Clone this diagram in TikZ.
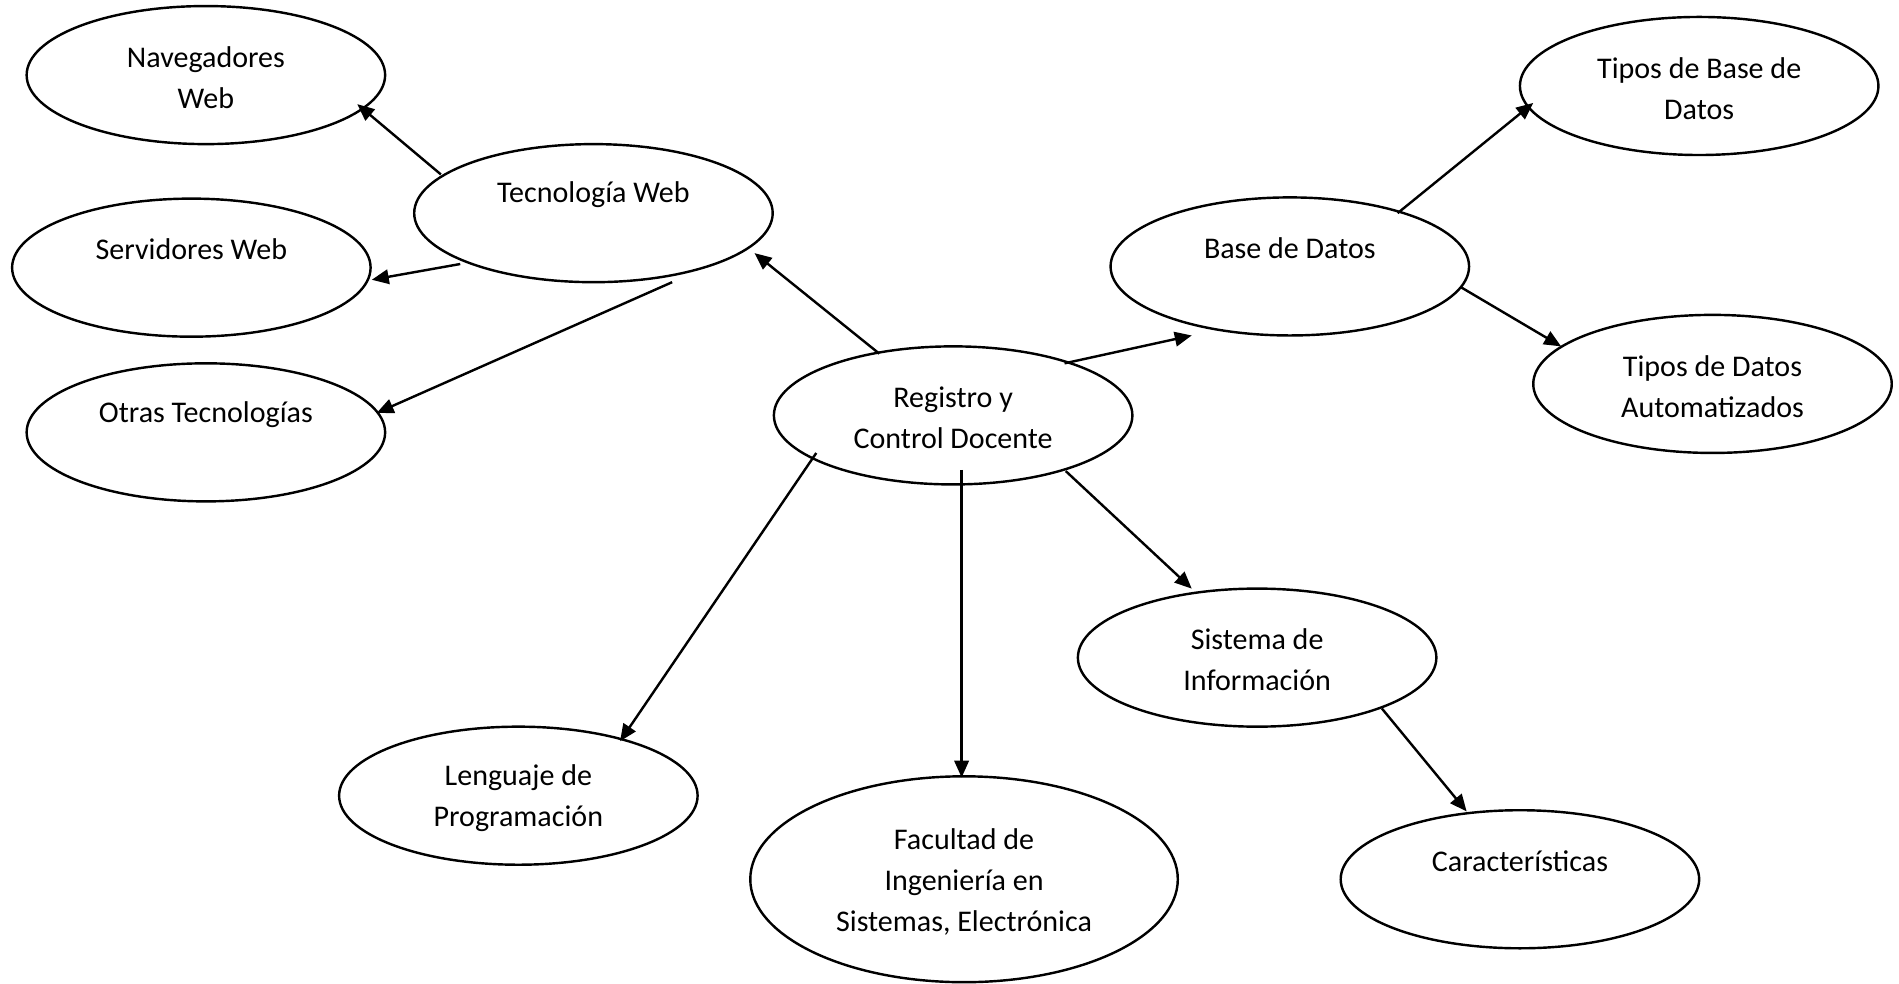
\documentclass[tikz,border=0pt]{standalone}
\usepackage{fontspec}
\setmainfont{Carlito}
\usetikzlibrary{shapes.geometric,arrows.meta,calc}
\begin{document}
\begin{tikzpicture}[x=0.5pt,y=-0.5pt,
  bubble/.style={ellipse,draw,line width=1pt,minimum width=148pt,minimum height=57pt,inner sep=0pt},
  bigbubble/.style={bubble,minimum width=176.5pt,minimum height=85pt},
  txt/.style={inner sep=0pt,align=center,font=\fontsize{12.4pt}{17pt}\selectfont},
  arr/.style={line width=1pt,-{Triangle[length=7pt,width=6pt]}}]
\useasboundingbox (0,0) rectangle (1568,812);

% ellipses
\node[bubble] (nav) at (170,62) {};
\node[bubble] (tw)  at (490,176) {};
\node[bubble] (srv) at (158,221) {};
\node[bubble] (otr) at (170,357) {};
\node[bubble] (reg) at (787,343) {};
\node[bubble] (bd)  at (1065,220) {};
\node[bubble] (tbd) at (1403,71) {};
\node[bubble] (tda) at (1414,317) {};
\node[bubble] (si)  at (1038,543) {};
\node[bubble] (len) at (428,657) {};
\node[bigbubble] (fac) at (796,726) {};
\node[bubble] (car) at (1255,726) {};

% labels (single lines sit in the upper half of their ellipse)
\node[txt] (nav-t) at ($(nav)+(0,2)$) {Navegadores\\Web};
\node[txt] (tw-t)  at ($(tw)+(0,-15)$) {Tecnología Web};
\node[txt] (srv-t) at ($(srv)+(0,-15)$) {Servidores Web};
\node[txt] (otr-t) at ($(otr)+(0,-15)$) {Otras Tecnologías};
\node[txt] (reg-t) at ($(reg)+(0,2)$) {Registro y\\Control Docente};
\node[txt] (bd-t)  at ($(bd)+(0,-15)$) {Base de Datos};
\node[txt] (tbd-t) at ($(tbd)+(0,2)$) {Tipos de Base de\\Datos};
\node[txt] (tda-t) at ($(tda)+(0,2)$) {Tipos de Datos\\Automatizados};
\node[txt] (si-t)  at ($(si)+(0,2)$) {Sistema de\\Información};
\node[txt] (len-t) at ($(len)+(0,2)$) {Lenguaje de\\Programación};
\node[txt] (fac-t) at ($(fac)+(0,2)$) {Facultad de\\Ingeniería en\\Sistemas, Electrónica};
\node[txt] (car-t) at ($(car)+(0,-15)$) {Características};

% connectors
\draw[arr] ($(tw)+(-126,-32)$) -- ($(nav)+(125,24)$);
\draw[arr] ($(tw)+(-110,42)$) -- ($(srv)+(149,10)$);
\draw[arr] ($(tw)+(65,57)$) -- ($(otr)+(141,-16)$);
\draw[arr] ($(reg)+(-61,-51)$) -- ($(tw)+(133,33)$);
\draw[arr] ($(reg)+(92,-43)$) -- ($(bd)+(-81,57)$);
\draw[arr] ($(reg)+(7,45)$) -- ($(fac)+(-2,-84)$);
\draw[arr] ($(reg)+(93,46)$) -- ($(si)+(-54,-57)$);
\draw[arr] ($(reg)+(-113,31)$) -- ($(len)+(84,-45)$);
\draw[arr] ($(bd)+(89,-44)$) -- ($(tbd)+(-137,14)$);
\draw[arr] ($(bd)+(141,17)$) -- ($(tda)+(-125,-31)$);
\draw[arr] ($(si)+(103,42)$) -- ($(car)+(-44,-56)$);
\end{tikzpicture}
\end{document}
